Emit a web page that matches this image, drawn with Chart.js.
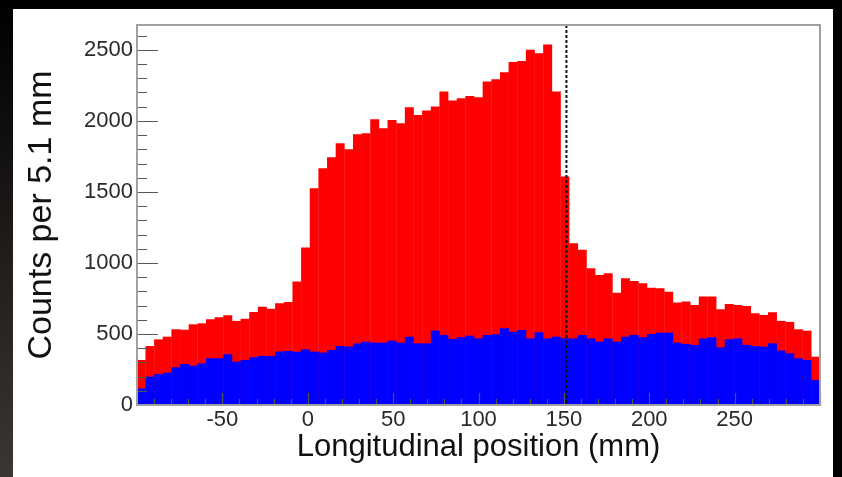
<!DOCTYPE html>
<html>
<head>
<meta charset="utf-8">
<script src="https://cdn.jsdelivr.net/npm/chart.js@4.4.0/dist/chart.umd.min.js"></script>
<style>
  html, body { margin: 0; padding: 0; background: #000; }
  #page { position: relative; width: 842px; height: 477px; overflow: hidden; background: #000; }
  #edge { position: absolute; left: 0; top: 0; width: 13px; height: 477px; background: linear-gradient(#000, #3c3632); }
  #card { position: absolute; left: 13px; top: 9px; width: 820px; height: 468px; background: #fff; }
  canvas { position: absolute; left: 0; top: 0; }
</style>
</head>
<body>
<div id="page">
  <div id="edge"></div>
  <div id="card"></div>
  <canvas id="hist" width="842" height="477"></canvas>
</div>
<script>
// Longitudinal position histogram: all counts (red) with the blue subset drawn over it

// Histogram binning (79 bins over the axis range)
const xLow = -100;
const xHigh = 300;
const nBins = 79;
const binWidth = (xHigh - xLow) / nBins;
const binCenters = Array.from({ length: nBins }, (_, i) => xLow + (i + 0.5) * binWidth);

// Counts per bin
const redCounts = [
    317, 415, 462, 481, 533, 530, 568, 575, 603, 617,
    631, 592, 608, 655, 692, 678, 716, 725, 869, 1108,
    1526, 1667, 1744, 1843, 1800, 1906, 1913, 2012, 1948, 2007,
    1984, 2096, 2042, 2073, 2101, 2207, 2143, 2160, 2176, 2167,
    2277, 2293, 2343, 2415, 2422, 2500, 2476, 2537, 2207, 1608,
    1138, 1092, 962, 915, 927, 791, 892, 873, 857, 826,
    822, 798, 721, 728, 704, 763, 763, 674, 711, 704,
    697, 646, 634, 653, 592, 585, 533, 523, 340
];
const blueCounts = [
    117, 200, 218, 228, 265, 289, 277, 293, 329, 329,
    357, 305, 317, 336, 345, 345, 376, 380, 375, 392,
    376, 369, 387, 415, 411, 434, 446, 439, 439, 453,
    439, 481, 434, 434, 524, 493, 465, 477, 488, 469,
    493, 498, 540, 516, 528, 469, 512, 469, 481, 469,
    469, 493, 469, 446, 469, 446, 481, 493, 477, 500,
    509, 509, 439, 430, 423, 469, 477, 406, 462, 469,
    423, 415, 411, 434, 383, 364, 329, 317, 176
];

// Axis labels
const xTickValues = [-50, 0, 50, 100, 150, 200, 250];
const yTickValues = [0, 500, 1000, 1500, 2000, 2500];
const yMax = 2675;
const cutPosition = 151.5;

const fontFamily = '"Liberation Sans", Arial, Helvetica, sans-serif';

// ROOT-like frame: inside ticks, grey box, dashed cut line
const rootAxes = {
    id: 'rootAxes',
    afterDatasetsDraw(chart) {
        const ctx = chart.ctx;
        const area = chart.chartArea;
        const xs = chart.scales.x;
        const ys = chart.scales.y;
        ctx.save();

        // ticks
        ctx.strokeStyle = '#555';
        ctx.lineWidth = 1.2;
        ctx.beginPath();
        for (let v = 0; v <= yMax; v += 100) {
            const py = Math.round(ys.getPixelForValue(v)) + 0.5;
            const len = v % 500 === 0 ? 21 : 10;
            ctx.moveTo(area.left, py);
            ctx.lineTo(area.left + len, py);
        }
        for (let v = xLow; v <= xHigh; v += 10) {
            const px = Math.round(xs.getPixelForValue(v)) + 0.5;
            const len = v % 50 === 0 ? 12 : 6;
            ctx.moveTo(px, area.bottom);
            ctx.lineTo(px, area.bottom - len);
        }
        ctx.stroke();

        // dashed line
        const cx = xs.getPixelForValue(cutPosition);
        ctx.setLineDash([3, 2]);
        ctx.strokeStyle = '#111';
        ctx.lineWidth = 2;
        ctx.beginPath();
        ctx.moveTo(cx, area.top);
        ctx.lineTo(cx, area.bottom);
        ctx.stroke();
        ctx.setLineDash([]);

        // frame
        ctx.strokeStyle = '#a0a0a0';
        ctx.lineWidth = 2;
        ctx.strokeRect(area.left, area.top, area.right - area.left, area.bottom - area.top);
        ctx.restore();
    }
};

new Chart(document.getElementById('hist'), {
    type: 'bar',
    data: {
        datasets: [
            {
                label: 'subset',
                data: binCenters.map((c, i) => ({ x: c, y: blueCounts[i] })),
                backgroundColor: '#0000ff',
                order: 0
            },
            {
                label: 'all',
                data: binCenters.map((c, i) => ({ x: c, y: redCounts[i] })),
                backgroundColor: '#ff0000',
                order: 1
            }
        ]
    },
    options: {
        responsive: false,
        animation: false,
        devicePixelRatio: 1,
        layout: { padding: { left: 0, top: 25, right: 22, bottom: 0 } },
        datasets: {
            bar: { grouped: false, barPercentage: 1.04, categoryPercentage: 1, borderWidth: 0 }
        },
        plugins: {
            legend: { display: false },
            tooltip: { enabled: false }
        },
        scales: {
            x: {
                type: 'linear',
                min: xLow,
                max: xHigh,
                offset: false,
                grid: { display: false, drawTicks: false },
                border: { display: false },
                afterBuildTicks: s => { s.ticks = xTickValues.map(v => ({ value: v })); },
                ticks: {
                    color: '#2a2a2a',
                    font: { family: fontFamily, size: 22 },
                    padding: 2,
                    maxRotation: 0,
                    autoSkip: false,
                    callback: v => String(v)
                },
                title: {
                    display: true,
                    text: 'Longitudinal position (mm)',
                    color: '#111',
                    font: { family: fontFamily, size: 31 },
                    padding: { top: 0, bottom: 11 }
                },
                afterFit: s => { s.height = 72; }
            },
            y: {
                min: 0,
                max: yMax,
                grid: { display: false, drawTicks: false },
                border: { display: false },
                afterBuildTicks: s => { s.ticks = yTickValues.map(v => ({ value: v })); },
                ticks: {
                    color: '#2a2a2a',
                    font: { family: fontFamily, size: 22 },
                    padding: 4,
                    callback: v => String(v)
                },
                title: {
                    display: true,
                    text: 'Counts per 5.1 mm',
                    color: '#111',
                    font: { family: fontFamily, size: 34 },
                    padding: { top: 21, bottom: 0 }
                },
                afterFit: s => { s.width = 137; }
            }
        }
    },
    plugins: [rootAxes]
});
</script>
</body>
</html>
